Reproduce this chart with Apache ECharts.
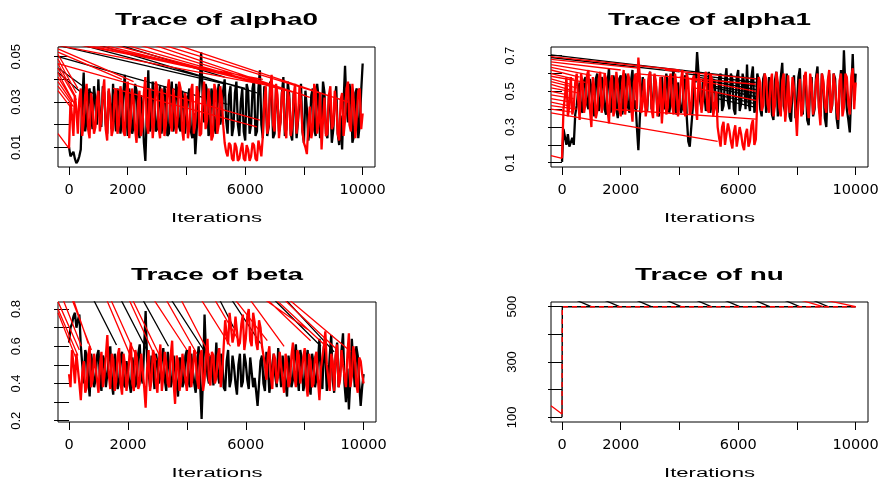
<!DOCTYPE html>
<html><head><meta charset="utf-8">
<script src="https://cdn.jsdelivr.net/npm/echarts@6/dist/echarts.min.js"></script>
<style>html,body{margin:0;padding:0;background:#fff}#c{width:887px;height:482px}</style>
</head><body><div id="c"></div><script>
// ---------- data ----------
// samples on whole hundreds
const iterations = [0,100,200,300,400,500,600,700,800,900,
1000,1100,1200,1300,1400,1500,1600,1700,1800,1900,
2000,2100,2200,2300,2400,2500,2600,2700,2800,2900,
3000,3100,3200,3300,3400,3500,3600,3700,3800,3900,
4000,4100,4200,4300,4400,4500,4600,4700,4800,4900,
5000,5100,5200,5300,5400,5500,5600,5700,5800,5900,
6000,6100,6200,6300,6400,6500,6600,6700,6800,6900,
7000,7100,7200,7300,7400,7500,7600,7700,7800,7900,
8000,8100,8200,8300,8400,8500,8600,8700,8800,8900,
9000,9100,9200,9300,9400,9500,9600,9700,9800,9900,
10000];
// samples half-way between them
const midIterations = [50,150,250,350,450,550,650,750,850,950,
1050,1150,1250,1350,1450,1550,1650,1750,1850,1950,
2050,2150,2250,2350,2450,2550,2650,2750,2850,2950,
3050,3150,3250,3350,3450,3550,3650,3750,3850,3950,
4050,4150,4250,4350,4450,4550,4650,4750,4850,4950,
5050,5150,5250,5350,5450,5550,5650,5750,5850,5950,
6050,6150,6250,6350,6450,6550,6650,6750,6850,6950,
7050,7150,7250,7350,7450,7550,7650,7750,7850,7950,
8050,8150,8250,8350,8450,8550,8650,8750,8850,8950,
9050,9150,9250,9350,9450,9550,9650,9750,9850,9950];

const alpha0Chain1 = [0.010,0.007,0.005,0.004,0.009,0.043,0.022,0.036,0.018,0.031,
0.040,0.019,0.034,0.016,0.029,0.038,0.017,0.032,0.021,0.042,
0.015,0.030,0.019,0.035,0.014,0.028,0.004,0.044,0.020,0.033,
0.018,0.037,0.022,0.031,0.016,0.039,0.021,0.034,0.017,0.030,
0.023,0.036,0.014,0.007,0.029,0.052,0.021,0.035,0.018,0.032,
0.016,0.038,0.024,0.040,0.016,0.037,0.019,0.039,0.015,0.036,
0.013,0.035,0.020,0.040,0.017,0.044,0.014,0.031,0.019,0.035,
0.016,0.030,0.021,0.041,0.018,0.033,0.013,0.029,0.022,0.038,
0.012,0.027,0.019,0.036,0.015,0.032,0.020,0.034,0.014,0.030,
0.018,0.037,0.011,0.009,0.046,0.021,0.033,0.015,0.036,0.020,
0.047];
const alpha0Chain1Mid = [0.006,0.008,0.003,0.006,0.030,0.017,0.030,0.024,0.037,0.020,
0.024,0.037,0.020,0.035,0.018,0.025,0.036,0.016,0.034,0.025,
0.036,0.016,0.038,0.020,0.033,0.012,0.025,0.017,0.039,0.017,
0.030,0.016,0.037,0.015,0.033,0.017,0.038,0.019,0.035,0.016,
0.032,0.017,0.025,0.018,0.038,0.033,0.038,0.015,0.036,0.019,
0.033,0.020,0.035,0.022,0.033,0.015,0.034,0.020,0.030,0.017,
0.038,0.016,0.036,0.015,0.036,0.020,0.037,0.015,0.039,0.014,
0.036,0.017,0.034,0.015,0.039,0.016,0.034,0.014,0.031,0.017,
0.035,0.013,0.033,0.018,0.038,0.014,0.039,0.016,0.033,0.012,
0.031,0.016,0.024,0.030,0.028,0.038,0.012,0.034,0.014,0.035];
const alpha0Chain2 = [0.0095,0.024,0.033,0.016,0.036,0.021,0.038,0.014,0.029,0.019,
0.035,0.022,0.040,0.013,0.031,0.018,0.036,0.020,0.033,0.015,
0.039,0.021,0.031,0.012,0.035,0.019,0.041,0.016,0.030,0.022,
0.037,0.014,0.032,0.020,0.040,0.017,0.029,0.023,0.036,0.013,
0.031,0.019,0.038,0.021,0.034,0.016,0.039,0.022,0.030,0.015,
0.035,0.020,0.032,0.012,0.006,0.011,0.004,0.010,0.005,0.012,
0.004,0.009,0.006,0.011,0.004,0.010,0.015,0.037,0.020,0.042,
0.017,0.033,0.021,0.036,0.014,0.031,0.019,0.038,0.023,0.030,
0.012,0.007,0.028,0.018,0.035,0.021,0.009,0.032,0.016,0.037,
0.020,0.029,0.013,0.034,0.022,0.039,0.017,0.030,0.024,0.036,
0.025];
const alpha0Chain2Mid = [0.030,0.015,0.027,0.031,0.015,0.033,0.018,0.034,0.016,0.031,
0.017,0.034,0.018,0.036,0.015,0.033,0.016,0.037,0.017,0.034,
0.014,0.036,0.018,0.030,0.015,0.034,0.020,0.036,0.014,0.039,
0.019,0.036,0.015,0.035,0.021,0.036,0.016,0.039,0.018,0.034,
0.014,0.035,0.016,0.037,0.015,0.032,0.018,0.036,0.013,0.038,
0.016,0.037,0.020,0.008,0.012,0.005,0.012,0.004,0.009,0.005,
0.011,0.004,0.012,0.005,0.013,0.006,0.030,0.016,0.036,0.020,
0.038,0.014,0.034,0.018,0.035,0.015,0.033,0.016,0.037,0.017,
0.010,0.020,0.014,0.038,0.016,0.034,0.022,0.015,0.033,0.018,
0.035,0.016,0.031,0.015,0.036,0.020,0.038,0.014,0.035,0.018];
// jump segments [x0, y0, x1, y1]
const alpha0Chain1Jumps = [[-375,0.045,900,0.033],[-375,0.043,700,0.031],[-375,0.055,5300,0.038],
[200,0.056,6000,0.036],[800,0.056,6400,0.034],[-375,0.050,5400,0.029],[1500,0.056,5300,0.041]];
const alpha0Chain2Jumps = [[-375,0.0535,2200,0.039],[-375,0.052,1800,0.040],[-375,0.051,300,0.036],
[-375,0.049,250,0.034],[-375,0.047,200,0.033],[-375,0.045,250,0.031],[-375,0.043,150,0.030],
[-375,0.041,200,0.029],[-375,0.039,100,0.030],[-375,0.037,150,0.028],[-375,0.035,100,0.027],
[-375,0.016,0,0.0095],[0,0.056,6600,0.040],[300,0.056,6800,0.038],[600,0.056,7000,0.037],
[900,0.056,7200,0.036],[1300,0.056,7400,0.035],[1700,0.056,7700,0.034],[2200,0.056,8000,0.033],
[2700,0.056,8200,0.032],[-375,0.055,6500,0.038],[-375,0.047,6500,0.022],[1500,0.036,6400,0.019],
[3000,0.056,9300,0.031],[3500,0.056,9500,0.030]];

const alpha1Chain1 = [0.105,0.30,0.26,0.18,0.20,0.42,0.55,0.38,0.58,0.40,
0.52,0.36,0.60,0.43,0.55,0.37,0.63,0.41,0.54,0.35,
0.59,0.42,0.56,0.38,0.62,0.45,0.17,0.48,0.57,0.39,
0.61,0.44,0.53,0.36,0.58,0.40,0.55,0.43,0.62,0.37,
0.54,0.41,0.59,0.22,0.20,0.60,0.72,0.45,0.57,0.39,
0.61,0.44,0.55,0.38,0.60,0.42,0.63,0.40,0.57,0.37,
0.62,0.43,0.55,0.65,0.39,0.64,0.41,0.56,0.36,0.60,
0.43,0.54,0.34,0.61,0.40,0.66,0.38,0.55,0.33,0.59,
0.42,0.63,0.37,0.56,0.31,0.58,0.40,0.64,0.36,0.54,
0.30,0.60,0.42,0.57,0.29,0.62,0.73,0.40,0.27,0.71,
0.60];
const alpha1Chain1Mid = [0.29,0.20,0.19,0.24,0.37,0.50,0.40,0.56,0.43,0.57,
0.41,0.57,0.39,0.58,0.40,0.55,0.38,0.59,0.40,0.57,
0.37,0.60,0.41,0.56,0.40,0.30,0.35,0.58,0.41,0.56,
0.40,0.59,0.39,0.56,0.42,0.60,0.38,0.58,0.41,0.55,
0.38,0.56,0.35,0.19,0.40,0.55,0.60,0.40,0.58,0.43,
0.38,0.57,0.41,0.58,0.39,0.56,0.44,0.60,0.40,0.58,
0.39,0.60,0.40,0.44,0.58,0.38,0.60,0.40,0.57,0.38,
0.58,0.37,0.56,0.36,0.58,0.42,0.60,0.36,0.52,0.35,
0.58,0.40,0.59,0.34,0.54,0.36,0.58,0.41,0.60,0.35,
0.52,0.38,0.60,0.35,0.50,0.45,0.52,0.34,0.50,0.45];
const alpha1Chain2 = [0.125,0.47,0.36,0.58,0.41,0.60,0.34,0.55,0.43,0.62,
0.30,0.52,0.39,0.61,0.44,0.57,0.32,0.59,0.40,0.54,
0.36,0.62,0.45,0.56,0.33,0.60,0.69,0.38,0.57,0.42,
0.61,0.35,0.55,0.44,0.32,0.58,0.41,0.60,0.37,0.53,
0.43,0.62,0.36,0.56,0.40,0.59,0.34,0.54,0.45,0.61,
0.38,0.57,0.42,0.30,0.19,0.33,0.21,0.28,0.18,0.31,
0.20,0.26,0.17,0.29,0.22,0.34,0.23,0.58,0.39,0.60,
0.43,0.55,0.36,0.61,0.41,0.56,0.33,0.59,0.44,0.52,
0.25,0.57,0.40,0.61,0.35,0.54,0.42,0.60,0.31,0.56,
0.38,0.62,0.43,0.53,0.34,0.60,0.41,0.58,0.37,0.63,
0.55];
const alpha1Chain2Mid = [0.40,0.58,0.42,0.37,0.55,0.45,0.60,0.38,0.59,0.40,
0.58,0.35,0.57,0.38,0.60,0.40,0.55,0.36,0.61,0.40,
0.55,0.37,0.60,0.42,0.55,0.40,0.58,0.44,0.36,0.58,
0.40,0.60,0.36,0.58,0.45,0.37,0.57,0.42,0.60,0.36,
0.56,0.40,0.60,0.37,0.57,0.42,0.60,0.38,0.56,0.40,
0.60,0.36,0.50,0.24,0.30,0.20,0.32,0.22,0.27,0.19,
0.30,0.20,0.26,0.19,0.31,0.20,0.45,0.55,0.42,0.57,
0.38,0.60,0.42,0.55,0.36,0.60,0.42,0.38,0.58,0.40,
0.45,0.36,0.58,0.42,0.60,0.37,0.56,0.40,0.60,0.42,
0.56,0.38,0.60,0.41,0.56,0.36,0.60,0.43,0.58,0.40];
const alpha1Chain1Jumps = [[-375,0.705,6600,0.57],[-375,0.69,4000,0.61],[4200,0.60,6600,0.55],
[4600,0.58,6600,0.53],[5000,0.56,6600,0.51],[4800,0.54,6600,0.49],[5200,0.52,6600,0.47],
[5000,0.50,6600,0.45],[5300,0.48,6600,0.43],[5300,0.46,6600,0.41]];
const alpha1Chain2Jumps = [[-375,0.695,4000,0.62],[-375,0.68,2600,0.63],[-375,0.665,2000,0.62],
[-375,0.65,1500,0.60],[-375,0.635,1000,0.59],[-375,0.62,600,0.58],[-375,0.60,400,0.57],
[-375,0.585,800,0.55],[-375,0.57,300,0.54],[-375,0.555,500,0.52],[-375,0.54,250,0.51],
[-375,0.52,600,0.49],[-375,0.50,200,0.48],[-375,0.48,400,0.46],[-375,0.46,300,0.44],
[-375,0.44,200,0.42],[-375,0.42,500,0.40],[-375,0.40,300,0.385],[-375,0.38,5300,0.22],
[-375,0.14,0,0.125],[3500,0.62,6600,0.57],[2500,0.60,6600,0.54],[4000,0.58,6600,0.50],
[4500,0.52,6600,0.45],[1700,0.40,6600,0.345]];

const betaChain1 = [0.62,0.72,0.78,0.74,0.60,0.40,0.55,0.33,0.50,0.42,
0.58,0.36,0.52,0.45,0.60,0.34,0.49,0.41,0.57,0.38,
0.53,0.35,0.48,0.43,0.61,0.40,0.79,0.46,0.55,0.37,
0.51,0.44,0.59,0.36,0.50,0.42,0.56,0.33,0.52,0.41,
0.58,0.38,0.47,0.35,0.60,0.21,0.77,0.44,0.55,0.39,
0.62,0.40,0.53,0.36,0.58,0.42,0.49,0.34,0.56,0.41,
0.51,0.37,0.55,0.43,0.28,0.52,0.40,0.57,0.35,0.50,
0.44,0.59,0.38,0.54,0.33,0.48,0.42,0.61,0.36,0.53,
0.40,0.58,0.34,0.51,0.43,0.64,0.37,0.55,0.41,0.66,
0.35,0.62,0.44,0.67,0.30,0.26,0.64,0.38,0.55,0.28,
0.45];
const betaChain1Mid = [0.70,0.76,0.70,0.77,0.50,0.58,0.42,0.56,0.38,0.55,
0.42,0.55,0.38,0.54,0.40,0.56,0.37,0.55,0.40,0.52,
0.40,0.54,0.38,0.56,0.44,0.60,0.52,0.38,0.50,0.56,
0.40,0.54,0.42,0.57,0.38,0.55,0.40,0.54,0.38,0.55,
0.42,0.56,0.40,0.52,0.40,0.45,0.55,0.40,0.52,0.46,
0.45,0.56,0.38,0.52,0.38,0.55,0.40,0.50,0.38,0.56,
0.42,0.54,0.38,0.36,0.40,0.55,0.36,0.50,0.42,0.56,
0.38,0.48,0.55,0.40,0.55,0.38,0.54,0.44,0.58,0.36,
0.52,0.40,0.56,0.38,0.52,0.44,0.60,0.36,0.55,0.42,
0.54,0.38,0.58,0.40,0.48,0.42,0.50,0.60,0.40,0.38];
const betaChain2 = [0.45,0.58,0.40,0.55,0.31,0.52,0.38,0.60,0.42,0.49,
0.35,0.57,0.44,0.66,0.37,0.53,0.41,0.59,0.34,0.50,
0.43,0.62,0.36,0.54,0.40,0.47,0.27,0.58,0.42,0.55,
0.35,0.61,0.44,0.51,0.38,0.63,0.29,0.52,0.41,0.57,
0.36,0.60,0.45,0.53,0.37,0.58,0.42,0.64,0.39,0.55,
0.43,0.59,0.46,0.74,0.61,0.79,0.66,0.75,0.62,0.77,
0.64,0.80,0.60,0.73,0.58,0.70,0.55,0.42,0.60,0.37,
0.53,0.44,0.58,0.35,0.51,0.41,0.62,0.38,0.55,0.45,
0.59,0.33,0.52,0.40,0.57,0.31,0.54,0.68,0.43,0.56,
0.36,0.61,0.42,0.50,0.38,0.67,0.44,0.55,0.35,0.52,
0.40];
const betaChain2Mid = [0.38,0.50,0.56,0.40,0.46,0.35,0.55,0.38,0.56,0.42,
0.50,0.38,0.55,0.45,0.56,0.36,0.55,0.40,0.56,0.36,
0.55,0.40,0.58,0.37,0.56,0.38,0.48,0.36,0.58,0.40,
0.52,0.36,0.57,0.40,0.55,0.40,0.55,0.36,0.56,0.42,
0.55,0.38,0.58,0.42,0.55,0.36,0.55,0.42,0.57,0.40,
0.55,0.38,0.60,0.66,0.78,0.62,0.76,0.60,0.72,0.58,
0.76,0.63,0.78,0.62,0.74,0.60,0.50,0.55,0.44,0.56,
0.40,0.57,0.42,0.56,0.38,0.55,0.44,0.58,0.40,0.54,
0.40,0.56,0.38,0.54,0.42,0.48,0.60,0.50,0.36,0.52,
0.55,0.38,0.58,0.44,0.56,0.38,0.60,0.40,0.54,0.45];
const betaChain1Jumps = [[800,0.86,1610,0.607],[1730,0.86,2640,0.58],[2470,0.86,3375,0.60],
[3430,0.86,4570,0.58],[5080,0.86,5590,0.70],[5480,0.86,6500,0.615],[6900,0.86,8550,0.60],
[7300,0.86,9000,0.57]];
const betaChain2Jumps = [[-375,0.84,350,0.58],[-375,0.80,300,0.55],[-375,0.78,250,0.53],
[-250,0.87,420,0.60],[80,0.86,760,0.58],[130,0.86,650,0.615],[1250,0.86,2120,0.535],
[1390,0.86,2300,0.54],[2010,0.86,2980,0.525],[2125,0.86,3090,0.545],[2840,0.86,4000,0.58],
[3260,0.86,4340,0.56],[3770,0.86,4800,0.545],[4450,0.86,5480,0.60],[4910,0.86,5820,0.615],
[5590,0.86,6730,0.63],[6100,0.86,7300,0.60],[6560,0.86,8100,0.69],[6670,0.86,8200,0.63],
[6960,0.86,8660,0.61],[7240,0.86,9110,0.58],[7400,0.86,9570,0.57]];

const nuIterations = [0,10,10000];
const nuChain1 = [100,500,500];
const nuChain2 = [112,500,500];
const nuChain1Jumps = [[350,530,1000,500],[1310,530,1960,500],[2390,530,3040,500],[3410,530,4060,500],
[4430,530,5080,500],[5400,530,6050,500],[6420,530,7070,500],[7440,530,8090,500],[8410,530,9060,500]];
const nuChain2Jumps = [[-375,142,0,112],[7930,530,8890,500],[8700,530,10000,500]];

// tick values
const xTicks = [0,2000,4000,6000,8000,10000];
const xTickLabels = [0,2000,6000,10000];
const alpha0Ticks = [0.01,0.02,0.03,0.04,0.05], alpha0Labels = [0.01,0.03,0.05];
const alpha1Ticks = [0.1,0.2,0.3,0.4,0.5,0.6,0.7], alpha1Labels = [0.1,0.3,0.5,0.7];
const betaTicks = [0.2,0.3,0.4,0.5,0.6,0.7,0.8], betaLabels = [0.2,0.4,0.6,0.8];
const nuTicks = [100,200,300,400,500], nuLabels = [100,300,500];
const titles = ['Trace of alpha0','Trace of alpha1','Trace of beta','Trace of nu'];

// ---------- chart ----------
function trace(ys, mids){
  const d = [];
  iterations.forEach((x,i)=>{ d.push([x, ys[i]]); if (i < midIterations.length) d.push([midIterations[i], mids[i]]); });
  return d;
}
function pairs(xs, ys){ return xs.map((x,i)=>[x, ys[i]]); }
function segs(list){ const d=[]; list.forEach(s=>{ d.push([s[0],s[1]]); d.push([s[2],s[3]]); d.push([NaN,NaN]); }); return d; }

const panels = [
  {grid:{left:58,top:47,width:317,height:120}, ymin:0.0013, ymax:0.0543, ticks:alpha0Ticks, labels:alpha0Labels, tl:15, lm:35,
   c1:trace(alpha0Chain1,alpha0Chain1Mid), j1:alpha0Chain1Jumps, c2:trace(alpha0Chain2,alpha0Chain2Mid), j2:alpha0Chain2Jumps},
  {grid:{left:551,top:47,width:317,height:120}, ymin:0.076, ymax:0.749, ticks:alpha1Ticks, labels:alpha1Labels, tl:14, lm:34,
   c1:trace(alpha1Chain1,alpha1Chain1Mid), j1:alpha1Chain1Jumps, c2:trace(alpha1Chain2,alpha1Chain2Mid), j2:alpha1Chain2Jumps},
  {grid:{left:58,top:302,width:318,height:120}, ymin:0.193, ymax:0.838, ticks:betaTicks, labels:betaLabels, tl:15, lm:35,
   c1:trace(betaChain1,betaChain1Mid), j1:betaChain1Jumps, c2:trace(betaChain2,betaChain2Mid), j2:betaChain2Jumps},
  {grid:{left:551,top:302,width:317,height:120}, ymin:83, ymax:517, ticks:nuTicks, labels:nuLabels, tl:14, lm:32,
   c1:pairs(nuIterations,nuChain1), j1:nuChain1Jumps, c2:pairs(nuIterations,nuChain2), j2:nuChain2Jumps, dashed:true}
];

const grids=[], xAxes=[], yAxes=[], series=[], graphic=[];
panels.forEach((p,k)=>{
  grids.push(Object.assign({show:true, borderColor:'#000', borderWidth:1, backgroundColor:'transparent', containLabel:false, outerBoundsMode:'none'}, p.grid));
  xAxes.push({gridIndex:k, type:'value', min:-375, max:10420,
    axisLine:{show:false}, splitLine:{show:false},
    axisTick:{show:true, customValues:xTicks, length:8, lineStyle:{color:'#000', width:1}},
    axisLabel:{show:true, customValues:xTickLabels, formatter:v=>String(v), margin:16, color:'#000', fontFamily:'DejaVu Sans', fontSize:14.5}});
  yAxes.push({gridIndex:k, type:'value', min:p.ymin, max:p.ymax,
    axisLine:{show:false}, splitLine:{show:false},
    axisTick:{show:true, customValues:p.ticks, length:p.tl, lineStyle:{color:'#000', width:1}},
    axisLabel:{show:true, customValues:p.labels, formatter:v=>String(v), rotate:90, margin:p.lm, color:'#000', fontFamily:'Liberation Sans', fontSize:13}});
  const tw = p.dashed ? 1.4 : 2.3;
  const base = {type:'line', xAxisIndex:k, yAxisIndex:k, showSymbol:false, symbol:'none', silent:true, clip:true, animation:false, connectNulls:false};
  series.push(Object.assign({}, base, {name:'chain1', data:p.c1, lineStyle:{color:'#000', width:tw}}));
  series.push(Object.assign({}, base, {name:'chain1 jumps', data:segs(p.j1), lineStyle:{color:'#000', width:1.3}}));
  series.push(Object.assign({}, base, {name:'chain2', data:p.c2, lineStyle:{color:'#ff0000', width:tw, type: p.dashed ? [5,4] : 'solid'}}));
  series.push(Object.assign({}, base, {name:'chain2 jumps', data:segs(p.j2), lineStyle:{color:'#ff0000', width:1.3}}));
  const cx = p.grid.left + p.grid.width/2;
  graphic.push({type:'text', x:cx, y:p.grid.top-27, scaleX:1.69, silent:true,
    style:{text:titles[k], font:'bold 16.5px "Liberation Sans"', fill:'#000', align:'center', verticalAlign:'middle', textAlign:'center', textVerticalAlign:'middle'}});
  graphic.push({type:'text', x:cx, y:p.grid.top+p.grid.height+52, scaleX:1.77, silent:true,
    style:{text:'Iterations', font:'12.5px "Liberation Sans"', fill:'#000', align:'center', verticalAlign:'middle', textAlign:'center', textVerticalAlign:'middle'}});
});

const chart = echarts.init(document.getElementById('c'), null, {renderer:'canvas'});
chart.setOption({animation:false, backgroundColor:'#fff', grid:grids, xAxis:xAxes, yAxis:yAxes, series:series, graphic:graphic});
</script></body></html>
